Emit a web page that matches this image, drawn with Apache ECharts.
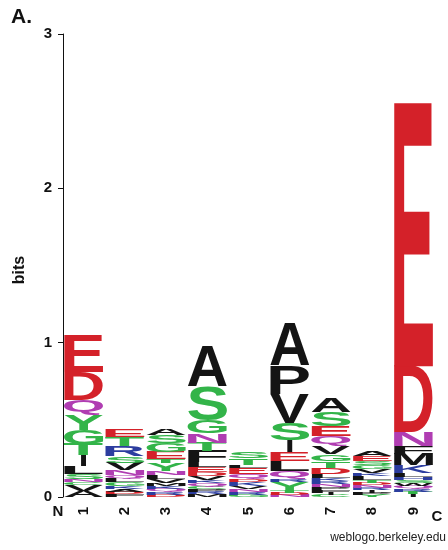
<!DOCTYPE html>
<html><head><meta charset="utf-8">
<script src="https://cdn.jsdelivr.net/npm/echarts@6/dist/echarts.min.js"></script>
<style>html,body{margin:0;padding:0;background:#fff}#chart{width:448px;height:550px}</style>
</head><body><div id="chart"></div>
<script>
// Sequence logo data (letters listed top to bottom, heights in bits)
const positions = ['1','2','3','4','5','6','7','8','9'];
const yTicks = [0, 1, 2, 3];

const letters1 = ['E','D','Q','Y','G','T','I','L','S','N','C','V','A'];
const bits1    = [0.240,0.182,0.097,0.097,0.091,0.071,0.071,0.052,0.032,0.019,0.019,0.039,0.039];
const letters2 = ['E','T','R','S','V','N','Q','L','G','K','A','D','F'];
const bits2    = [0.045,0.058,0.065,0.045,0.045,0.032,0.019,0.026,0.026,0.019,0.019,0.013,0.019];
const letters3 = ['A','S','G','E','T','Y','N','L','V','M','K','Q','R','D'];
const bits3    = [0.045,0.052,0.058,0.045,0.026,0.052,0.026,0.026,0.026,0.019,0.019,0.019,0.019,0.013];
const letters4 = ['A','S','G','N','T','F','L','E','D','V','K','Q','C','P','R','M'];
const bits4    = [0.260,0.221,0.084,0.058,0.058,0.071,0.032,0.032,0.026,0.026,0.019,0.019,0.019,0.019,0.013,0.019];
const letters5 = ['S','T','L','E','Q','D','K','V','N','R','G'];
const bits5    = [0.039,0.045,0.019,0.039,0.032,0.019,0.026,0.019,0.019,0.019,0.013];
const letters6 = ['A','P','V','S','I','E','L','Q','R','Y','T','D','N'];
const bits6    = [0.279,0.188,0.188,0.110,0.078,0.058,0.065,0.052,0.019,0.052,0.019,0.013,0.013];
const letters7 = ['A','S','E','Q','V','G','T','D','L','K','R','N','P','F','I','C'];
const bits7    = [0.091,0.091,0.065,0.065,0.052,0.045,0.045,0.039,0.026,0.019,0.019,0.019,0.019,0.019,0.013,0.013];
const letters8 = ['A','E','S','G','V','K','L','T','D','N','R','I','P','Y'];
const bits8    = [0.032,0.032,0.026,0.026,0.026,0.019,0.026,0.019,0.013,0.019,0.013,0.019,0.013,0.013];
const letters9 = ['E','D','N','F','M','K','L','H','S','W','Q','R','T','I'];
const bits9    = [1.708,0.429,0.091,0.052,0.071,0.052,0.026,0.019,0.019,0.019,0.019,0.019,0.013,0.019];

const stackLetters = [letters1,letters2,letters3,letters4,letters5,letters6,letters7,letters8,letters9];
const stackBits    = [bits1,bits2,bits3,bits4,bits5,bits6,bits7,bits8,bits9];

const RED = '#d42129', GREEN = '#33b449', PURPLE = '#b03db2', BLUE = '#2c3d9f', BLACK = '#141414';
const colorOf = {
  G: GREEN, S: GREEN, T: GREEN, Y: GREEN, C: GREEN,
  N: PURPLE, Q: PURPLE,
  K: BLUE, R: BLUE, H: BLUE,
  D: RED, E: RED,
  A: BLACK, V: BLACK, L: BLACK, I: BLACK, P: BLACK, W: BLACK, F: BLACK, M: BLACK
};

// Build stacked items (bottom to top)
const items = [];
const itemLetter = [];
stackLetters.forEach(function (ls, p) {
  const bs = stackBits[p];
  let y = 0;
  for (let i = ls.length - 1; i >= 0; i--) {
    items.push([p, y, y + bs[i]]);
    itemLetter.push(ls[i]);
    y += bs[i];
  }
});

const FONT = 'bold 100px "Liberation Sans"';
const mctx = document.createElement('canvas').getContext('2d');
const mcache = {};
function metrics(L) {
  if (mcache[L]) return mcache[L];
  mctx.font = FONT;
  mctx.textBaseline = 'middle';
  mctx.textAlign = 'left';
  const m = mctx.measureText(L);
  const r = {
    left: m.actualBoundingBoxLeft,
    asc: m.actualBoundingBoxAscent,
    w: m.actualBoundingBoxLeft + m.actualBoundingBoxRight,
    h: m.actualBoundingBoxAscent + m.actualBoundingBoxDescent
  };
  mcache[L] = r;
  return r;
}

function renderItem(params, api) {
  const L = itemLetter[params.dataIndex];
  const p = api.value(0);
  const lo = api.coord([p, api.value(1)]);
  const hi = api.coord([p, api.value(2)]);
  const band = api.size([1, 0])[0];
  let w = band - 2;
  const h = lo[1] - hi[1];
  if (h <= 0.05) return null;
  if (L === 'I') w = w * 0.14;
  const m = metrics(L);
  const sx = w / m.w, sy = h / m.h;
  const left = lo[0] - w / 2;
  return {
    type: 'text',
    x: left + m.left * sx,
    y: hi[1] + m.asc * sy,
    scaleX: sx,
    scaleY: sy,
    silent: true,
    style: { text: L, font: FONT, fill: colorOf[L], align: 'left', verticalAlign: 'middle' }
  };
}

const chart = echarts.init(document.getElementById('chart'), null, { renderer: 'canvas' });
chart.setOption({
  animation: false,
  backgroundColor: '#fff',
  grid: { left: 63, right: 14, top: 34, bottom: 53 },
  xAxis: {
    type: 'category',
    data: positions,
    boundaryGap: true,
    axisLine: { show: false },
    axisTick: { show: false },
    axisLabel: { rotate: 90, margin: 10, color: '#111', fontWeight: 'bold', fontSize: 15, fontFamily: 'Liberation Sans' },
    splitLine: { show: false }
  },
  yAxis: {
    type: 'value',
    min: yTicks[0],
    max: yTicks[yTicks.length - 1],
    interval: 1,
    axisLine: { show: true, lineStyle: { color: '#111', width: 1 } },
    axisTick: { show: true, length: 5, lineStyle: { color: '#111' } },
    axisLabel: { margin: 11, color: '#111', fontWeight: 'bold', fontSize: 15, fontFamily: 'Liberation Sans' },
    splitLine: { show: false }
  },
  graphic: [
    { type: 'text', left: 11, top: 7, style: { text: 'A.', font: 'bold 21px "Liberation Sans"', fill: '#111' } },
    { type: 'text', x: 20, y: 270, rotation: Math.PI / 2, style: { text: 'bits', font: 'bold 16px "Liberation Sans"', fill: '#111', align: 'center', verticalAlign: 'middle' } },
    { type: 'text', x: 58, y: 512, style: { text: 'N', font: 'bold 15px "Liberation Sans"', fill: '#111', align: 'center', verticalAlign: 'middle' } },
    { type: 'text', x: 437, y: 517, style: { text: 'C', font: 'bold 15px "Liberation Sans"', fill: '#111', align: 'center', verticalAlign: 'middle' } },
    { type: 'text', x: 446, y: 538, style: { text: 'weblogo.berkeley.edu', font: '12px "Liberation Sans"', fill: '#222', align: 'right', verticalAlign: 'middle' } }
  ],
  series: [{
    type: 'custom',
    renderItem: renderItem,
    data: items,
    encode: { x: 0, y: [1, 2] },
    silent: true
  }]
});
</script>
</body></html>
